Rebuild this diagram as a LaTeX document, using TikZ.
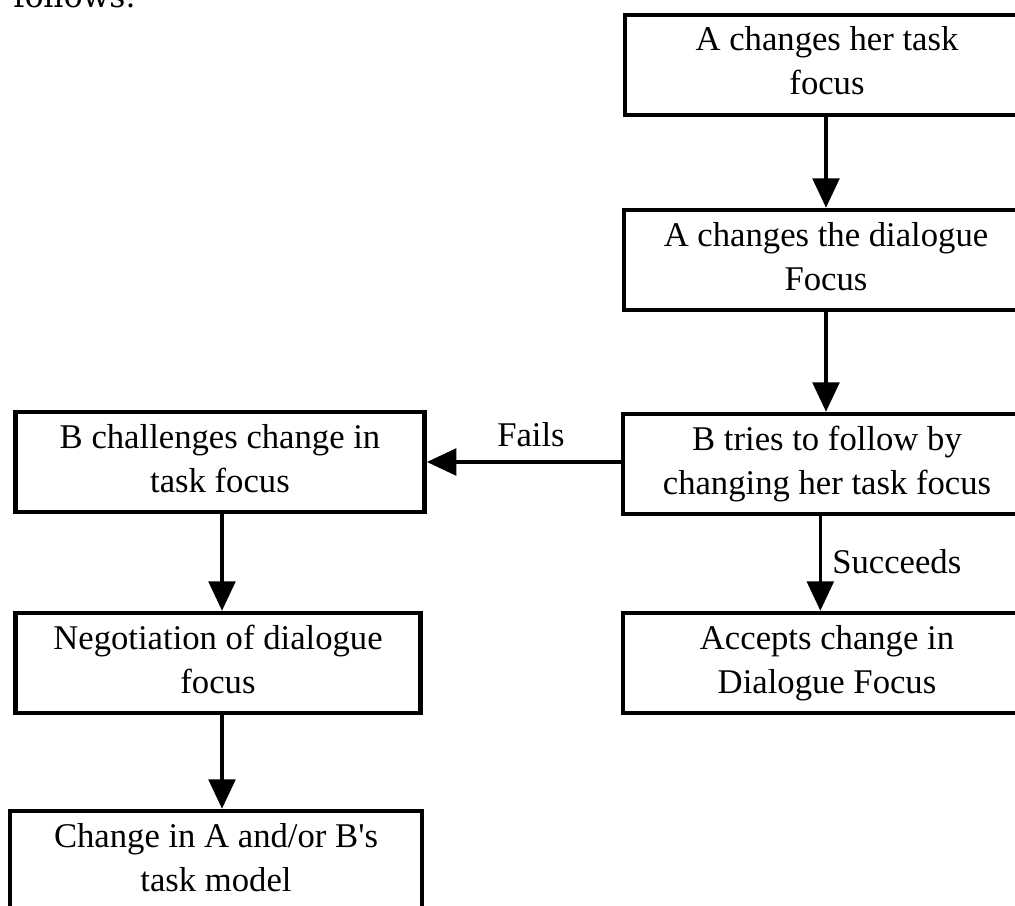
\documentclass[tikz,border=0pt]{standalone}
\usepackage{fontspec}
\setmainfont{Liberation Serif}
\newfontfamily\followfont{DejaVu Serif}
\usetikzlibrary{arrows.meta}
\begin{document}
\begin{tikzpicture}[x=0.75pt,y=-0.75pt,
  boxfont/.style={font=\fontsize{26}{33}\selectfont},
  flowbox/.style={draw, line width=3.4pt, rectangle, inner sep=0pt,
    minimum width=#1, text height=60pt, text depth=15pt, boxfont},
  arr/.style={line width=2.5pt, -{Triangle[width=20pt,length=22pt]}},
  lbl/.style={boxfont, inner sep=0pt}]
\useasboundingbox (0,0) rectangle (1015,906);
\clip (0,0) rectangle (1015,906);
\fill[white] (0,0) rectangle (1015,906);

\node[anchor=base west, inner sep=0pt, font=\followfont\fontsize{23.5}{28}\selectfont] (fol) at (13,8) {follows.};

% right column
\node[flowbox=303pt] (a1) at (827,65) {\begin{tabular}[b]{@{}c@{}}A changes her task\\focus\end{tabular}};
\node[flowbox=303pt] (a2) at (826,260) {\begin{tabular}[b]{@{}c@{}}A changes the dialogue\\Focus\end{tabular}};
\node[flowbox=306pt] (b3) at (827,464) {\begin{tabular}[b]{@{}c@{}}B tries to follow by\\changing her task focus\end{tabular}};
\node[flowbox=306pt] (acc) at (827,663) {\begin{tabular}[b]{@{}c@{}}Accepts change in\\Dialogue Focus\end{tabular}};

% left column
\node[flowbox=307pt] (bc) at (220,462) {\begin{tabular}[b]{@{}c@{}}B challenges change in\\task focus\end{tabular}};
\node[flowbox=304pt] (neg) at (218,663) {\begin{tabular}[b]{@{}c@{}}Negotiation of dialogue\\focus\end{tabular}};
\node[flowbox=309pt] (chg) at (216,861) {\begin{tabular}[b]{@{}c@{}}Change in A and/or B\textquotesingle s\\task model\end{tabular}};

% labels
\node[lbl, anchor=base] (fails) at (531,446) {Fails};
\node[lbl, anchor=base west] (succ) at (832,573) {Succeeds};

% connectors
\draw[arr] (a1.south -| a2.north) -- (a2.north);
\draw[arr] (a2.south) -- (a2.south |- b3.north);
\draw[arr] ([xshift=-5pt]b3.south) -- ([xshift=-5pt]acc.north);
\draw[arr] (b3.west |- bc.east) -- (bc.east);
\draw[arr] ([xshift=1.5pt]bc.south) -- ([xshift=1.5pt]bc.south |- neg.north);
\draw[arr] ([xshift=3pt]neg.south) -- ([xshift=3pt]neg.south |- chg.north);
\end{tikzpicture}
\end{document}
